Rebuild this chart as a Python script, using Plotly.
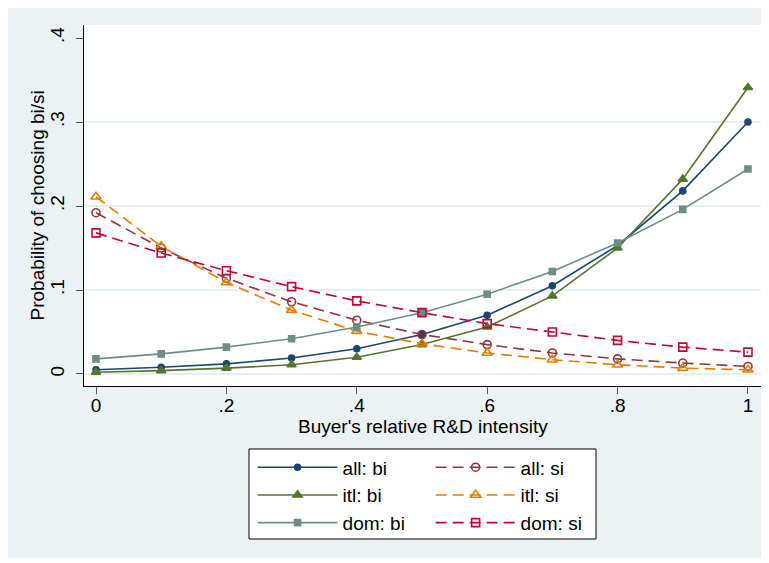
import plotly.graph_objects as go

x_vals = [0, 0.1, 0.2, 0.3, 0.4, 0.5, 0.6, 0.7, 0.8, 0.9, 1.0]

all_bi = [0.005, 0.008, 0.012, 0.019, 0.030, 0.047, 0.070, 0.105, 0.153, 0.218, 0.300]
itl_bi = [0.002, 0.004, 0.007, 0.011, 0.020, 0.035, 0.056, 0.093, 0.150, 0.232, 0.341]
dom_bi = [0.018, 0.024, 0.032, 0.042, 0.056, 0.073, 0.095, 0.122, 0.156, 0.196, 0.244]
all_si = [0.192, 0.150, 0.114, 0.086, 0.064, 0.047, 0.035, 0.025, 0.018, 0.013, 0.009]
itl_si = [0.211, 0.152, 0.109, 0.076, 0.051, 0.036, 0.025, 0.017, 0.011, 0.007, 0.005]
dom_si = [0.168, 0.144, 0.123, 0.104, 0.087, 0.073, 0.060, 0.050, 0.040, 0.032, 0.026]

x_ticks = [0, 0.2, 0.4, 0.6, 0.8, 1.0]
x_tick_labels = ["0", ".2", ".4", ".6", ".8", "1"]
y_ticks = [0, 0.1, 0.2, 0.3, 0.4]
y_tick_labels = ["0", ".1", ".2", ".3", ".4"]
grid_ticks = [0, 0.1, 0.2, 0.3]

x_title = "Buyer's relative R&D intensity"
y_title = "Probability of choosing bi/si"

FONT = "Liberation Sans, Arial, sans-serif"
BG = "#eaf2f3"
DASH = "11px,6px"

series = [
    ("all: bi", all_bi, "#1a476f", "solid", "circle", 6, "legend"),
    ("all: si", all_si, "#90353b", DASH, "circle-open", 8, "legend2"),
    ("itl: bi", itl_bi, "#55752f", "solid", "triangle-up", 8, "legend"),
    ("itl: si", itl_si, "#e37e00", DASH, "triangle-up-open", 9, "legend2"),
    ("dom: bi", dom_bi, "#6e8e84", "solid", "square", 6, "legend"),
    ("dom: si", dom_si, "#c10534", DASH, "square-open", 8, "legend2"),
]

fig = go.Figure()
for name, vals, color, dash, sym, size, leg in series:
    fig.add_trace(go.Scatter(
        x=x_vals, y=vals, name=name, mode="lines+markers",
        line=dict(color=color, width=1.6, dash=dash),
        marker=dict(symbol=sym, size=size, color=color,
                    line=dict(color=color, width=1.6)),
        legend=leg, hoverinfo="skip",
    ))

shapes = [
    dict(type="rect", xref="paper", yref="paper", x0=-0.1123, x1=1.0074,
         y0=-0.4765, y1=1.047, fillcolor=BG, line=dict(width=0), layer="below"),
    dict(type="rect", xref="paper", yref="paper", x0=0, x1=1, y0=0, y1=1,
         fillcolor="white", line=dict(width=0), layer="below"),
    dict(type="rect", xref="paper", yref="paper", x0=0.2437, x1=0.7563,
         y0=-0.4238, y1=-0.1745, fillcolor="white",
         line=dict(color="black", width=1), layer="below"),
]
for g in grid_ticks:
    shapes.append(dict(type="line", xref="paper", yref="y", x0=0, x1=1,
                       y0=g, y1=g, line=dict(color="#e1eaec", width=1.5),
                       layer="below"))

annotations = [
    dict(text=x_title, xref="paper", yref="paper", x=0.5, y=-0.111,
         xanchor="center", yanchor="middle", showarrow=False,
         font=dict(size=19)),
    dict(text=y_title, xref="paper", yref="paper", x=-0.068, y=0.5,
         xanchor="center", yanchor="middle", showarrow=False, textangle=-90,
         font=dict(size=19)),
]

fig.update_layout(
    width=761, height=555,
    margin=dict(l=76, r=8, t=17, b=177, autoexpand=False),
    paper_bgcolor="white", plot_bgcolor="rgba(0,0,0,0)",
    font=dict(family=FONT, size=19, color="black"),
    shapes=shapes, annotations=annotations,
    xaxis=dict(range=[-0.0184, 1.02], tickvals=x_ticks, ticktext=x_tick_labels,
               showgrid=False, zeroline=False, showline=True, linecolor="black",
               linewidth=1, ticks="outside", ticklen=7, tickcolor="#555",
               tickfont=dict(size=19), automargin=False, ticklabelstandoff=-5),
    yaxis=dict(range=[-0.0143, 0.4155], tickvals=y_ticks, ticktext=y_tick_labels,
               showgrid=False, zeroline=False, showline=True, linecolor="black",
               linewidth=1, ticks="outside", ticklen=7, tickcolor="#555",
               tickangle=-90, tickfont=dict(size=19), automargin=False,
               ticklabelstandoff=4),
    legend=dict(x=0.249, y=-0.1728, xanchor="left", yanchor="top",
                bgcolor="rgba(0,0,0,0)", font=dict(size=19),
                itemwidth=80, tracegroupgap=0),
    legend2=dict(x=0.512, y=-0.1728, xanchor="left", yanchor="top",
                 bgcolor="rgba(0,0,0,0)", font=dict(size=19),
                 itemwidth=80, tracegroupgap=0),
    showlegend=True,
)

fig.write_html("out.html")
